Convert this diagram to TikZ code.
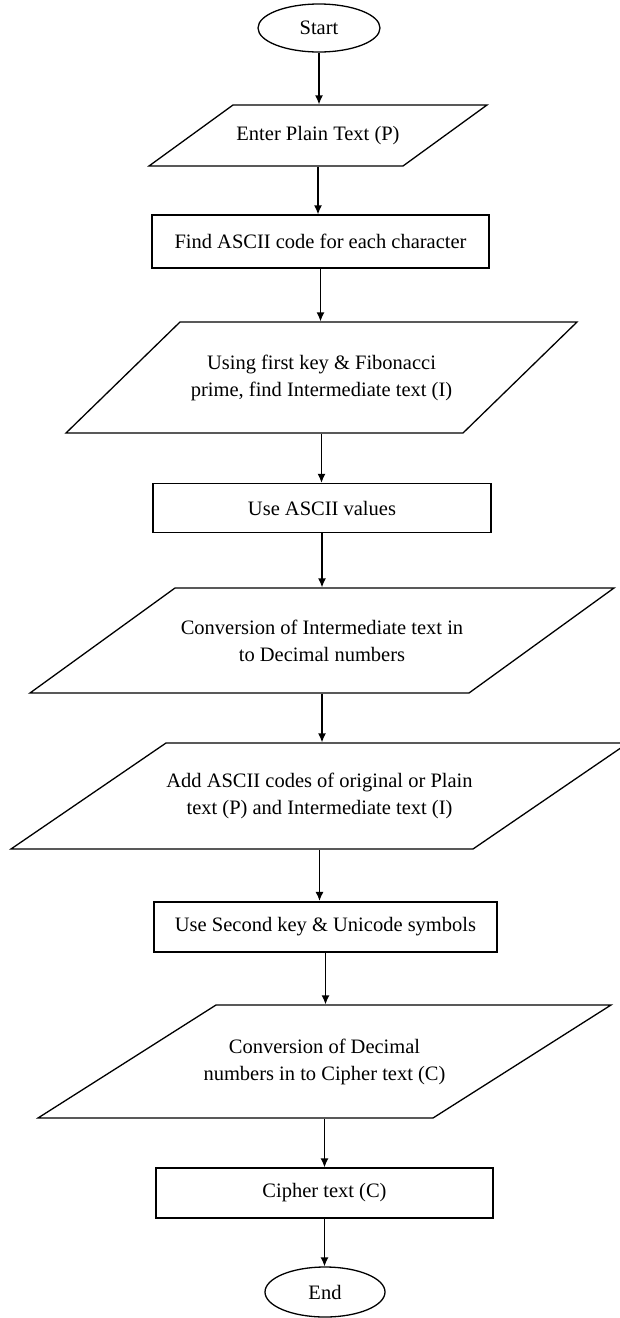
\documentclass[tikz,border=0pt]{standalone}
\usepackage{fontspec}
\setmainfont{Liberation Serif}
\usetikzlibrary{arrows.meta,shapes.geometric}
\tikzset{
  base/.style={font=\fontsize{20.5}{27}\selectfont, align=center, inner sep=0pt, line width=1.3pt},
  term/.style={base, draw, ellipse, minimum width=122pt, minimum height=48pt},
  procbox/.style={base, draw, rectangle},
  iotext/.style={base},
  flow/.style={line width=1.3pt, -{Latex[length=9pt,width=8pt]}},
}
% #1 name, #2 cx, #3 cy, #4 edge width, #5 slant, #6 height, #7 text
\newcommand{\ioshape}[7]{%
  \draw[line width=1.3pt] (#2,#3) ++(-#4/2-#5/2,#6/2) -- ++(#4,0) -- ++(#5,-#6) -- ++(-#4,0) -- cycle;
  \node[iotext, minimum height=#6pt] (#1) at (#2,#3) {#7};
}
\begin{document}
\begin{tikzpicture}[x=1pt,y=-1pt]
\useasboundingbox[fill=white] (0,0) rectangle (619,1318);

\node[term] (start) at (319,28) {Start};
\ioshape{p1}{318}{135.5}{254}{84}{61}{Enter Plain Text (P)}
\node[procbox, minimum width=337pt, minimum height=53pt] (r2) at (320.5,241.5) {Find ASCII code for each character};
\ioshape{p3}{321.5}{377.5}{397}{114}{111}{Using first key \& Fibonacci\\prime, find Intermediate text (I)}
\node[procbox, minimum width=338pt, minimum height=49pt] (r4) at (322,508) {Use ASCII values};
\ioshape{p5}{322}{640.5}{439}{145}{105}{Conversion of Intermediate text in\\to Decimal numbers}
\ioshape{p6}{319.5}{796}{462}{155}{106}{Add ASCII codes of original or Plain\\text (P) and Intermediate text (I)}
\node[procbox, line width=2.2pt, minimum width=343pt, minimum height=50pt] (r7) at (325.5,927) {Use Second key \& Unicode symbols};
\ioshape{p8}{324.5}{1061.5}{395}{178}{113}{Conversion of Decimal\\numbers in to Cipher text (C)}
\node[procbox, minimum width=337pt, minimum height=50pt] (r9) at (324.5,1193) {Cipher text (C)};
\node[term, minimum width=120pt, minimum height=50pt] (end) at (325,1292) {End};

\draw[flow] (start.south) -- (start.south |- p1.north);
\draw[flow] (p1.south) -- (p1.south |- r2.north);
\draw[flow] (r2.south) -- (r2.south |- p3.north);
\draw[flow] (p3.south) -- (p3.south |- r4.north);
\draw[flow] (r4.south) -- (r4.south |- p5.north);
\draw[flow] (p5.south) -- (p5.south |- p6.north);
\draw[flow] (p6.south) -- (p6.south |- r7.north);
\draw[flow] (r7.south) -- (r7.south |- p8.north);
\draw[flow] (p8.south) -- (p8.south |- r9.north);
\draw[flow] (r9.south) -- (r9.south |- end.north);
\end{tikzpicture}
\end{document}
